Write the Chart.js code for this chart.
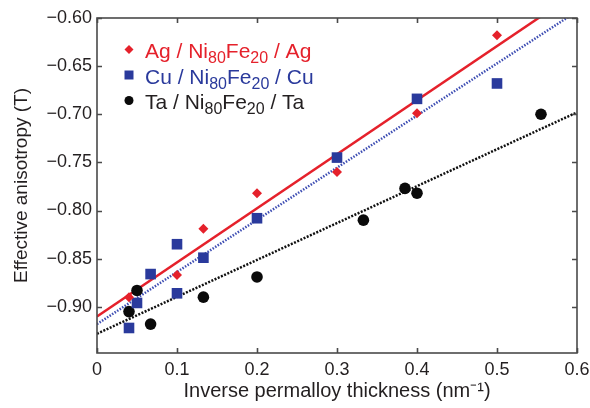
<!DOCTYPE html>
<html><head><meta charset="utf-8">
<script src="https://cdn.jsdelivr.net/npm/chart.js@4/dist/chart.umd.min.js"></script>
<style>html,body{margin:0;padding:0;background:#fff}#wrap{width:590px;height:408px}</style>
</head><body><div id="wrap"><canvas id="c" width="590" height="408"></canvas></div>
<script>
// Measured anisotropy for the three trilayer stacks
const agX = [0.04, 0.10, 0.133, 0.20, 0.30, 0.40, 0.50];
const agY = [-0.890, -0.867, -0.819, -0.782, -0.760, -0.699, -0.618];
const cuX = [0.04, 0.05, 0.067, 0.10, 0.10, 0.133, 0.20, 0.30, 0.40, 0.50];
const cuY = [-0.922, -0.896, -0.866, -0.835, -0.886, -0.849, -0.808, -0.745, -0.684, -0.668];
const taX = [0.04, 0.05, 0.067, 0.133, 0.20, 0.333, 0.385, 0.40, 0.555];
const taY = [-0.905, -0.883, -0.918, -0.890, -0.869, -0.810, -0.777, -0.782, -0.700];
// Linear fits, given by their values at x = 0 and x = 0.6
const fitX = [0, 0.6];
const agFit = [-0.910, -0.573];
const cuFit = [-0.918, -0.593];
const taFit = [-0.928, -0.698];
// Axis ticks
const xTicks = [0, 0.1, 0.2, 0.3, 0.4, 0.5, 0.6];
const yTicks = [-0.90, -0.85, -0.80, -0.75, -0.70, -0.65, -0.60];
// Legend entries (digits are set as subscripts)
const seriesNames = ['Ag / Ni80Fe20 / Ag', 'Cu / Ni80Fe20 / Cu', 'Ta / Ni80Fe20 / Ta'];

const RED = '#e5212b', BLUE = '#2a3a9c', BLACK = '#0a0a0a';
const TEXT = '#231f20', FRAME = '#4a4a4a';
const FONT = "'Liberation Sans', Arial, Helvetica, sans-serif";

const pts = (xs, ys) => xs.map((x, i) => ({x, y: ys[i]}));

// Closed frame with inward tick marks on all four sides
const framePlugin = {
  id: 'frame',
  afterDraw(chart) {
    const {ctx, chartArea: a, scales: {x, y}} = chart;
    ctx.save();
    ctx.strokeStyle = FRAME;
    ctx.lineWidth = 1.6;
    ctx.strokeRect(a.left, a.top, a.right - a.left, a.bottom - a.top);
    const L = 5;
    ctx.beginPath();
    xTicks.forEach(v => {
      const px = Math.round(x.getPixelForValue(v)) + 0.5;
      ctx.moveTo(px, a.bottom); ctx.lineTo(px, a.bottom - L);
      ctx.moveTo(px, a.top); ctx.lineTo(px, a.top + L);
    });
    yTicks.forEach(v => {
      const py = Math.round(y.getPixelForValue(v)) + 0.5;
      ctx.moveTo(a.left, py); ctx.lineTo(a.left + L, py);
      ctx.moveTo(a.right, py); ctx.lineTo(a.right - L, py);
    });
    ctx.stroke();
    ctx.restore();
  }
};

// Legend with subscripted composition numbers
const legendPlugin = {
  id: 'subLegend',
  afterDraw(chart) {
    const {ctx} = chart;
    const colors = [RED, BLUE, TEXT];
    const markColors = [RED, BLUE, BLACK];
    const shapes = ['diamond', 'square', 'circle'];
    const mx = 129, tx = 145, base0 = 58, step = 25.5;
    ctx.save();
    seriesNames.forEach((name, i) => {
      const base = base0 + i * step;
      const cy = base - 8.5;
      ctx.fillStyle = markColors[i];
      ctx.beginPath();
      if (shapes[i] === 'diamond') {
        ctx.moveTo(mx, cy - 4.5); ctx.lineTo(mx + 4.5, cy); ctx.lineTo(mx, cy + 4.5); ctx.lineTo(mx - 4.5, cy);
        ctx.closePath();
      } else if (shapes[i] === 'square') {
        ctx.rect(mx - 4.5, cy - 4.5, 9, 9);
      } else {
        ctx.arc(mx, cy, 4.5, 0, Math.PI * 2);
      }
      ctx.fill();
      ctx.fillStyle = colors[i];
      ctx.textBaseline = 'alphabetic';
      ctx.textAlign = 'left';
      let px = tx;
      name.split(/(\d+)/).forEach(part => {
        if (!part) return;
        const sub = /^\d+$/.test(part);
        ctx.font = (sub ? '16px ' : '21px ') + FONT;
        ctx.fillText(part, px, base + (sub ? 5 : 0));
        px += ctx.measureText(part).width;
      });
    });
    ctx.restore();
  }
};

Chart.defaults.font.family = FONT;
Chart.defaults.color = TEXT;

new Chart(document.getElementById('c'), {
  type: 'scatter',
  data: {
    datasets: [
      {label: 'Ag / Ni₈₀Fe₂₀ / Ag', data: pts(agX, agY), pointStyle: 'rectRot', pointRadius: 5,
       backgroundColor: RED, borderColor: RED, borderWidth: 0, order: 1},
      {label: 'Cu / Ni₈₀Fe₂₀ / Cu', data: pts(cuX, cuY), pointStyle: 'rect', pointRadius: 7.5,
       backgroundColor: BLUE, borderColor: BLUE, borderWidth: 0, order: 1},
      {label: 'Ta / Ni₈₀Fe₂₀ / Ta', data: pts(taX, taY), pointStyle: 'circle', pointRadius: 5.8,
       backgroundColor: BLACK, borderColor: BLACK, borderWidth: 0, order: 1},
      {label: 'Ag fit', type: 'line', data: pts(fitX, agFit), showLine: true, pointRadius: 0,
       borderColor: RED, borderWidth: 2.5, order: 2},
      {label: 'Cu fit', type: 'line', data: pts(fitX, cuFit), showLine: true, pointRadius: 0,
       borderColor: '#3d4db3', borderWidth: 2.5, borderDash: [1.5, 1.5], order: 2},
      {label: 'Ta fit', type: 'line', data: pts(fitX, taFit), showLine: true, pointRadius: 0,
       borderColor: '#111', borderWidth: 2.5, borderDash: [2, 1.5], order: 2}
    ]
  },
  options: {
    responsive: false,
    animation: false,
    events: [],
    layout: {padding: {top: 18, right: 13, bottom: 0, left: 0}},
    plugins: {legend: {display: false}, tooltip: {enabled: false}},
    scales: {
      x: {
        type: 'linear', min: 0, max: 0.6,
        afterBuildTicks: s => { s.ticks = xTicks.map(v => ({value: v})); },
        afterFit: s => { s.height = 55; s.paddingLeft = 0; s.paddingRight = 0; },
        grid: {display: false, drawTicks: false},
        border: {display: false},
        ticks: {font: {size: 18}, color: TEXT, padding: 6, maxRotation: 0, autoSkip: false,
                callback: v => v === 0 ? '0' : v.toFixed(1)},
        title: {display: true, text: 'Inverse permalloy thickness (nm\u207B\u00B9)', color: TEXT,
                font: {size: 20}, padding: {top: 0, bottom: 5}}
      },
      y: {
        type: 'linear', min: -0.948, max: -0.6,
        afterBuildTicks: s => { s.ticks = yTicks.map(v => ({value: v})); },
        afterFit: s => { s.width = 97; s.paddingTop = 0; s.paddingBottom = 0; },
        grid: {display: false, drawTicks: false},
        border: {display: false},
        ticks: {font: {size: 18}, color: TEXT, padding: 5,
                callback: v => '\u2212' + Math.abs(v).toFixed(2)},
        title: {display: true, text: 'Effective anisotropy (T)', color: TEXT,
                font: {size: 19}, padding: {top: 10, bottom: 0}}
      }
    }
  },
  plugins: [framePlugin, legendPlugin]
});
</script>
</body></html>
